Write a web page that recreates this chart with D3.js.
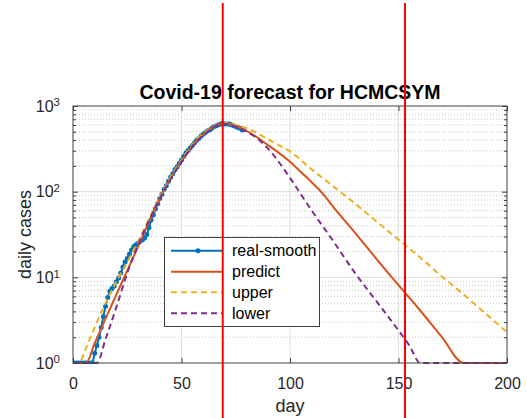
<!DOCTYPE html>
<html>
<head>
<meta charset="utf-8">
<script src="https://cdn.jsdelivr.net/npm/d3@7"></script>
<style>
  html, body { margin: 0; padding: 0; background: #fff; }
  svg { display: block; font-family: "Liberation Sans", Arial, Helvetica, sans-serif; }
</style>
</head>
<body>
<svg id="chart" width="527" height="418"></svg>
<script>
// Smoothed daily reported cases, one value per day starting at day 0
const realCases = [
  1, 1, 1, 1, 1, 1, 1, 1, 1, 1,
  1.3, 1.6, 2.0, 2.6, 3.5, 4.6, 5.8, 6.9, 7.4, 7.9,
  8.9, 9.8, 11.2, 13.2, 15.1, 16.6, 18.6, 20.9, 22.9, 24.0,
  25.1, 26.3, 27.5, 28.8, 31.6, 38.0, 46.8, 53.7, 63.1, 72.4,
  83.2, 93.3, 107, 117, 132, 148, 162, 182, 195, 214,
  234, 257, 282, 302, 324, 347, 372, 398, 417, 447,
  468, 490, 513, 525, 550, 575, 589, 603, 617, 631,
  617, 617, 617, 603, 589, 575, 562, 550, 525
];

// Model forecast (central estimate)
const predictDays  = [0, 6, 10, 15, 20, 25, 30, 35, 40, 45, 50, 55, 60, 65, 69, 75, 80, 85, 90, 95,
                      100, 105, 110, 115, 120, 130, 140, 150, 160, 170, 180, 200];
const predictCases = [1, 1, 1.7, 3.3, 6.3, 12.0, 22.9, 44.7, 83.2, 145, 229, 347, 468, 575, 631, 589, 513, 427, 347, 282,
                      224, 170, 129, 95.5, 66.1, 33.1, 16.2, 8.1, 4.1, 2.0, 1, 1];

// Upper bound of the forecast
const upperDays  = [0, 3, 5, 10, 15, 20, 25, 30, 35, 40, 45, 50, 55, 60, 65, 70, 75, 80, 85, 90,
                    95, 100, 110, 120, 130, 140, 150, 160, 170, 180, 190, 200];
const upperCases = [1, 1, 1.3, 2.6, 5.0, 8.9, 15.1, 26.3, 47.9, 87.1, 148, 234, 355, 479, 589, 631, 603, 550, 479, 407,
                    347, 295, 182, 115, 72.4, 44.7, 27.5, 17.0, 10.2, 6.3, 3.8, 2.3];

// Lower bound of the forecast
const lowerDays  = [0, 11, 15, 20, 25, 30, 35, 40, 45, 50, 55, 60, 65, 69, 75, 80, 85, 90, 95, 100,
                    105, 110, 120, 130, 140, 150, 155, 160, 200];
const lowerCases = [1, 1, 1.9, 4.5, 11.2, 24.0, 45.7, 83.2, 141, 224, 339, 457, 575, 620, 575, 501, 417, 316, 219, 145,
                    93.3, 60.3, 26.3, 11.2, 5.2, 2.4, 1.6, 1, 1];

// Reference days marked with vertical red lines
const markerDays = [69, 153];

const xTicks = [0, 50, 100, 150, 200];
const yTicks = [1, 10, 100, 1000];
const yExponents = ["0", "1", "2", "3"];

const seriesNames = ["real-smooth", "predict", "upper", "lower"];
const seriesColors = ["#0072BD", "#D95319", "#EDB120", "#7E2F8E"];

const W = 527, H = 418;
const plot = { left: 73, right: 507, top: 106, bottom: 363 };

const svg = d3.select("#chart");
svg.append("rect").attr("width", W).attr("height", H).attr("fill", "#fff");

const x = d3.scaleLinear().domain([0, 200]).range([plot.left, plot.right]);
const y = d3.scaleLog().domain([1, 1000]).range([plot.bottom, plot.top]);

// minor decade values 2..9 x 10^k
const minorVals = [];
[1, 10, 100].forEach(b => { for (let m = 2; m <= 9; m++) minorVals.push(b * m); });

// plot background
svg.append("rect")
  .attr("x", plot.left).attr("y", plot.top)
  .attr("width", plot.right - plot.left).attr("height", plot.bottom - plot.top)
  .attr("fill", "#fff");

// grid
const grid = svg.append("g");
grid.selectAll("line.minor").data(minorVals).join("line")
  .attr("x1", plot.left).attr("x2", plot.right)
  .attr("y1", d => y(d)).attr("y2", d => y(d))
  .attr("stroke", "#c8c8c8").attr("stroke-width", 1)
  .attr("stroke-dasharray", "1,2");
grid.selectAll("line.hmaj").data(yTicks.slice(1, 3)).join("line")
  .attr("x1", plot.left).attr("x2", plot.right)
  .attr("y1", d => y(d)).attr("y2", d => y(d))
  .attr("stroke", "#dedede").attr("stroke-width", 1);
grid.selectAll("line.vmaj").data(xTicks.slice(1, 4)).join("line")
  .attr("x1", d => x(d)).attr("x2", d => x(d))
  .attr("y1", plot.top).attr("y2", plot.bottom)
  .attr("stroke", "#dedede").attr("stroke-width", 1);

// clip for data
svg.append("clipPath").attr("id", "clip").append("rect")
  .attr("x", plot.left).attr("y", plot.top - 2)
  .attr("width", plot.right - plot.left + 1).attr("height", plot.bottom - plot.top + 3);

const data = svg.append("g").attr("clip-path", "url(#clip)");

const realPts = realCases.map((v, i) => [i, v]);
const lineLinear = d3.line().x(d => x(d[0])).y(d => y(d[1]));
const lineSmooth = d3.line().x(d => x(d[0])).y(d => y(d[1])).curve(d3.curveMonotoneX);

// real-smooth
data.append("path").datum(realPts)
  .attr("d", lineLinear)
  .attr("fill", "none").attr("stroke", seriesColors[0]).attr("stroke-width", 2)
  .attr("stroke-linejoin", "round");
data.selectAll("circle.real").data(realPts).join("circle")
  .attr("cx", d => x(d[0])).attr("cy", d => y(d[1])).attr("r", 2.5)
  .attr("fill", seriesColors[0]);

// predict
data.append("path").datum(predictDays.map((d, i) => [d, predictCases[i]]))
  .attr("d", lineSmooth)
  .attr("fill", "none").attr("stroke", seriesColors[1]).attr("stroke-width", 2);

// upper
data.append("path").datum(upperDays.map((d, i) => [d, upperCases[i]]))
  .attr("d", lineSmooth)
  .attr("fill", "none").attr("stroke", seriesColors[2]).attr("stroke-width", 2)
  .attr("stroke-dasharray", "6,4");

// lower
data.append("path").datum(lowerDays.map((d, i) => [d, lowerCases[i]]))
  .attr("d", lineSmooth)
  .attr("fill", "none").attr("stroke", seriesColors[3]).attr("stroke-width", 2)
  .attr("stroke-dasharray", "6,4");

// axes box
svg.append("rect")
  .attr("x", plot.left).attr("y", plot.top)
  .attr("width", plot.right - plot.left).attr("height", plot.bottom - plot.top)
  .attr("fill", "none").attr("stroke", "#404040").attr("stroke-width", 1);

const axisColor = "#404040";
function styleAxis(g) {
  g.select(".domain").remove();
  g.selectAll(".tick line").attr("stroke", axisColor);
  g.selectAll(".tick text").attr("fill", "#262626");
}

// x axis (inward ticks) bottom + top
svg.append("g").attr("transform", `translate(0,${plot.bottom})`)
  .call(d3.axisBottom(x).tickValues(xTicks).tickSizeInner(-5).tickSizeOuter(0).tickPadding(15))
  .call(styleAxis)
  .call(g => g.selectAll(".tick text").attr("font-size", 16).attr("font-family", null));
svg.append("g").attr("transform", `translate(0,${plot.top})`)
  .call(d3.axisTop(x).tickValues(xTicks).tickSizeInner(-5).tickSizeOuter(0).tickFormat(""))
  .call(styleAxis);

// y axis left with power-of-ten labels
svg.append("g").attr("transform", `translate(${plot.left},0)`)
  .call(d3.axisLeft(y).tickValues(yTicks).tickSizeInner(-5).tickSizeOuter(0).tickPadding(13))
  .call(styleAxis)
  .call(g => g.selectAll(".tick text").each(function(d, i) {
    const t = d3.select(this).text(null).attr("font-size", 16).attr("font-family", null);
    t.append("tspan").text("10");
    t.append("tspan").attr("font-size", 11.5).attr("dy", "-0.45em").text(yExponents[i]);
  }));
svg.append("g").attr("transform", `translate(${plot.left},0)`)
  .call(d3.axisLeft(y).tickValues(minorVals).tickSizeInner(-3).tickSizeOuter(0).tickFormat(""))
  .call(styleAxis);
svg.append("g").attr("transform", `translate(${plot.right},0)`)
  .call(d3.axisRight(y).tickValues(yTicks).tickSizeInner(-5).tickSizeOuter(0).tickFormat(""))
  .call(styleAxis);
svg.append("g").attr("transform", `translate(${plot.right},0)`)
  .call(d3.axisRight(y).tickValues(minorVals).tickSizeInner(-3).tickSizeOuter(0).tickFormat(""))
  .call(styleAxis);

// axis labels and title
svg.append("text")
  .attr("x", (plot.left + plot.right) / 2).attr("y", 412)
  .attr("text-anchor", "middle").attr("font-size", 18).attr("fill", "#262626")
  .text("day");
svg.append("text")
  .attr("transform", `translate(31,${(plot.top + plot.bottom) / 2}) rotate(-90)`)
  .attr("text-anchor", "middle").attr("font-size", 18).attr("fill", "#262626")
  .text("daily cases");
svg.append("text")
  .attr("x", (plot.left + plot.right) / 2).attr("y", 99)
  .attr("text-anchor", "middle").attr("font-size", 19.5).attr("font-weight", "bold").attr("fill", "#000")
  .text("Covid-19 forecast for HCMCSYM");

// legend
const legend = svg.append("g");
legend.append("rect")
  .attr("x", 164.5).attr("y", 237.5).attr("width", 155).attr("height", 89)
  .attr("fill", "#fff").attr("stroke", "#404040").attr("stroke-width", 1);
const rowY = [250.7, 271.7, 292.3, 313.3];
const dashes = [null, null, "6,4", "6,4"];
seriesNames.forEach((name, i) => {
  legend.append("line")
    .attr("x1", 171).attr("x2", 222).attr("y1", rowY[i]).attr("y2", rowY[i])
    .attr("stroke", seriesColors[i]).attr("stroke-width", 2)
    .attr("stroke-dasharray", dashes[i]);
  if (i === 0) {
    legend.append("circle").attr("cx", 198).attr("cy", rowY[i]).attr("r", 2.5).attr("fill", seriesColors[0]);
  }
  legend.append("text")
    .attr("x", 232).attr("y", rowY[i] + 5.5)
    .attr("font-size", 16).attr("fill", "#000")
    .text(name);
});

// vertical marker lines spanning the whole figure
svg.selectAll("line.marker").data(markerDays).join("line")
  .attr("x1", d => x(d)).attr("x2", d => x(d))
  .attr("y1", 3).attr("y2", H)
  .attr("stroke", "#ff0000").attr("stroke-width", 2);
</script>
</body>
</html>
